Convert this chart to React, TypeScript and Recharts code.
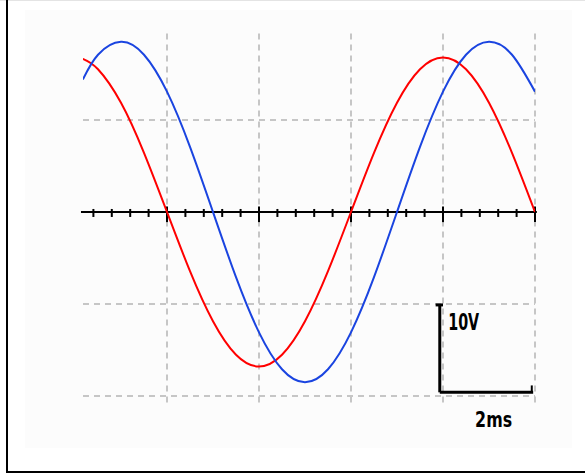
import React from 'react';
import { LineChart, Line, XAxis, YAxis, ReferenceLine, ReferenceDot } from 'recharts';

// time in ms (2 ms per division), voltage in V (10 V per division)
const timeMs = [-1.83, -1.5, -1, -0.5, 0, 0.5, 1, 1.5, 2, 2.5, 3, 3.5, 4, 4.5, 5, 5.5, 6, 6.5, 7, 7.5, 8];
const redVolts = [16.65, 15.52, 11.88, 6.43, 0, -6.43, -11.88, -15.52, -16.8, -15.52, -11.88, -6.43, 0, 6.43, 11.88, 15.52, 16.8, 15.52, 11.88, 6.43, 0];
const blueVolts = [14.4, 17.09, 18.5, 17.09, 13.08, 7.08, 0, -7.08, -13.08, -17.09, -18.5, -17.09, -13.08, -7.08, 0, 7.08, 13.08, 17.09, 18.5, 17.09, 13.08];

const gridTimes = [0, 2, 4, 6, 8];
const gridVolts = [10, 0, -10, -20];
const majorTicks = [0, 2, 4, 6, 8];
const minorTicks = [-1.6, -1.2, -0.8, -0.4, 0.4, 0.8, 1.2, 1.6, 2.4, 2.8, 3.2, 3.6, 4.4, 4.8, 5.2, 5.6, 6.4, 6.8, 7.2, 7.6];

const xDomain = [-1.826, 8];
const yDomain = [-20, 20];

// scale bar
const barX = 5.93;
const barTop = -10.1;
const barBottom = -19.6;
const barRight = 7.96;
const voltLabel = '10V';
const timeLabel = '2ms';

const data = timeMs.map((t, i) => ({ t, red: redVolts[i], blue: blueVolts[i] }));

const gridStroke = '#c6c6c6';

function condensedLabel(text: string, width: number, fontSize: number) {
  return (props: any) => {
    const vb = props.viewBox || {};
    const cx = (vb.x || 0) + (vb.width || 0) / 2;
    const cy = (vb.y || 0) + (vb.height || 0) / 2;
    return (
      <text
        x={cx - width / 2}
        y={cy}
        textLength={width}
        lengthAdjust="spacingAndGlyphs"
        fill="#000"
        fontSize={fontSize}
        fontWeight={700}
        fontFamily='"DejaVu Sans", sans-serif'
      >
        {text}
      </text>
    );
  };
}

export default function App() {
  return (
    <div style={{ position: 'absolute', left: 0, top: 0, width: 585, height: 474, background: '#fff', overflow: 'hidden' }}>
      <div style={{ position: 'absolute', left: 25, top: 10, width: 547, height: 438, background: '#fcfcfc' }} />
      <div style={{ position: 'absolute', left: 0, top: 0, width: 585, height: 1, background: '#e4e4e4' }} />
      <div style={{ position: 'absolute', left: 6, top: 0, width: 2, height: 473, background: '#000' }} />
      <div style={{ position: 'absolute', left: 6, top: 471, width: 579, height: 2, background: '#000' }} />
      <div style={{ position: 'absolute', left: 0, top: 0 }}>
        <LineChart width={585} height={474} data={data} margin={{ top: 28, right: 50, bottom: 78, left: 83 }}>
          <XAxis dataKey="t" type="number" domain={xDomain} hide allowDataOverflow />
          <YAxis type="number" domain={yDomain} hide allowDataOverflow />
          {gridVolts.map((v) => (
            <ReferenceLine key={'gh' + v} y={v} stroke={gridStroke} strokeWidth={2} strokeDasharray="6 5" ifOverflow="visible" />
          ))}
          {gridTimes.map((t) => (
            <ReferenceLine
              key={'gv' + t}
              segment={[{ x: t, y: 19.4 }, { x: t, y: -20.8 }]}
              stroke={gridStroke}
              strokeWidth={2}
              strokeDasharray="6 5"
              ifOverflow="visible"
            />
          ))}
          <ReferenceLine segment={[{ x: -1.87, y: 0 }, { x: 8.04, y: 0 }]} stroke="#000" strokeWidth={2} ifOverflow="visible" />
          {minorTicks.map((t) => (
            <ReferenceLine key={'mt' + t} segment={[{ x: t, y: 0.33 }, { x: t, y: -0.54 }]} stroke="#000" strokeWidth={2} ifOverflow="visible" />
          ))}
          {majorTicks.map((t) => (
            <ReferenceLine key={'Mt' + t} segment={[{ x: t, y: 0.6 }, { x: t, y: -1.1 }]} stroke="#000" strokeWidth={2} ifOverflow="visible" />
          ))}
          <ReferenceLine segment={[{ x: barX, y: barTop }, { x: barX, y: barBottom }]} stroke="#000" strokeWidth={3} ifOverflow="visible" />
          <ReferenceLine segment={[{ x: barX, y: barBottom }, { x: barRight, y: barBottom }]} stroke="#000" strokeWidth={3} ifOverflow="visible" />
          <ReferenceLine segment={[{ x: barX - 0.09, y: barTop }, { x: barX + 0.07, y: barTop }]} stroke="#000" strokeWidth={3} ifOverflow="visible" />
          <ReferenceLine segment={[{ x: barRight - 0.03, y: barBottom }, { x: barRight - 0.03, y: barBottom + 0.75 }]} stroke="#000" strokeWidth={2} ifOverflow="visible" />
          <ReferenceDot
            x={6.45}
            y={-12.85}
            r={0}
            fill="none"
            stroke="none"
            ifOverflow="visible"
            label={condensedLabel(voltLabel, 31, 23)}
          />
          <ReferenceDot
            x={7.1}
            y={-23.35}
            r={0}
            fill="none"
            stroke="none"
            ifOverflow="visible"
            label={condensedLabel(timeLabel, 37, 21)}
          />
          <Line dataKey="red" type="natural" stroke="#ff0000" strokeWidth={2} dot={false} isAnimationActive={false} />
          <Line dataKey="blue" type="natural" stroke="#1a44e0" strokeWidth={2} dot={false} isAnimationActive={false} />
        </LineChart>
      </div>
    </div>
  );
}
